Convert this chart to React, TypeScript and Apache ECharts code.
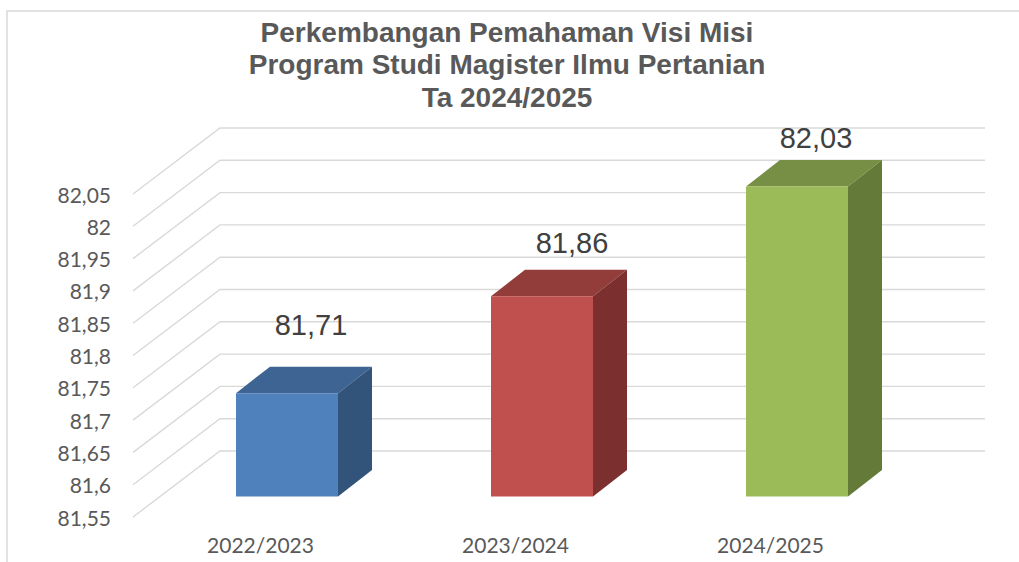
import React, { useEffect, useRef } from "react";
import * as echarts from "echarts";

const categories = ["2022/2023", "2023/2024", "2024/2025"];
const values = [81.71, 81.86, 82.03];
const valueLabels = ["81,71", "81,86", "82,03"];
const yTicks = [81.55, 81.6, 81.65, 81.7, 81.75, 81.8, 81.85, 81.9, 81.95, 82, 82.05];
const frontColors = ["#4f81bd", "#c0504d", "#9bbb59"];
const topColors = ["#3d6492", "#933d3b", "#778f44"];
const sideColors = ["#33547a", "#7b2f2e", "#647a39"];
const titleText = "Perkembangan Pemahaman Visi Misi\nProgram Studi Magister Ilmu Pertanian\nTa 2024/2025";

const wallDx = 87;
const wallDy = 66;
const barShiftX = 26.5;
const barShiftY = 20.5;
const barDepthX = 34;
const barDepthY = 26.5;
const labelOffsets: [number, number][] = [[24, -42], [30, -27], [19, -22]];

export default function App() {
  const ref = useRef<HTMLDivElement>(null);
  useEffect(() => {
    const chart = echarts.init(ref.current!, null, { renderer: "svg" });
    chart.setOption({
      animation: false,
      backgroundColor: "#ffffff",
      title: {
        text: titleText,
        left: 502,
        top: 11,
        textAlign: "center",
        textStyle: {
          fontFamily: "Liberation Sans",
          fontWeight: "bold",
          fontSize: 28,
          lineHeight: 32.5,
          color: "#595959",
        },
      },
      grid: { left: 133, top: 194, width: 765, height: 323 },
      xAxis: {
        type: "category",
        data: categories,
        axisLine: { show: false },
        axisTick: { show: false },
        axisLabel: { fontFamily: "Lato", fontSize: 21, color: "#595959", margin: 17 },
      },
      yAxis: {
        type: "value",
        min: 81.55,
        max: 82.05,
        interval: 0.05,
        axisLine: { show: false },
        axisTick: { show: false },
        splitLine: { show: false },
        axisLabel: {
          fontFamily: "Lato",
          fontSize: 21,
          color: "#595959",
          margin: 22,
          formatter: (v: number) => String(Number(v.toFixed(2))).replace(".", ","),
        },
      },
      graphic: [
        {
          type: "polyline",
          silent: true,
          shape: { points: [[7, 562], [7, 11], [1019, 11]] },
          style: { fill: "none", stroke: "#d9d9d9", lineWidth: 1.5 },
        },
      ],
      series: [
        {
          type: "custom",
          z: 1,
          silent: true,
          data: yTicks.map((t) => [0, t]),
          encode: { x: 0, y: 1 },
          renderItem: (params: any, api: any) => {
            const y = api.coord([0, api.value(1)])[1];
            const x0 = params.coordSys.x;
            const w = params.coordSys.width;
            return {
              type: "polyline",
              shape: { points: [[x0, y], [x0 + wallDx, y - wallDy], [x0 + wallDx + w, y - wallDy]] },
              style: { fill: "none", stroke: "#d9d9d9", lineWidth: 1.4 },
            };
          },
        },
        {
          type: "custom",
          z: 2,
          silent: true,
          data: values.map((v, i) => [i, v]),
          encode: { x: 0, y: 1 },
          renderItem: (params: any, api: any) => {
            const i = api.value(0);
            const top = api.coord([i, api.value(1)]);
            const base = api.coord([i, yTicks[0]]);
            const bw = api.size([1, 0])[0] * 0.4;
            const l = top[0] - bw / 2 + barShiftX;
            const r = l + bw;
            const t = top[1] - barShiftY;
            const b = base[1] - barShiftY;
            return {
              type: "group",
              children: [
                {
                  type: "polygon",
                  shape: { points: [[l, t], [r, t], [r + barDepthX, t - barDepthY], [l + barDepthX, t - barDepthY]] },
                  style: { fill: topColors[i] },
                },
                {
                  type: "polygon",
                  shape: { points: [[r, t], [r + barDepthX, t - barDepthY], [r + barDepthX, b - barDepthY], [r, b]] },
                  style: { fill: sideColors[i] },
                },
                {
                  type: "rect",
                  shape: { x: l, y: t, width: bw, height: b - t },
                  style: { fill: frontColors[i] },
                },
                {
                  type: "text",
                  x: (l + r) / 2 + labelOffsets[i][0],
                  y: t - barDepthY + labelOffsets[i][1],
                  style: {
                    text: valueLabels[i],
                    fontFamily: "Liberation Sans",
                    fontSize: 29,
                    fill: "#404040",
                    align: "center",
                    verticalAlign: "middle",
                  },
                },
              ],
            };
          },
        },
      ],
    });
    return () => chart.dispose();
  }, []);
  return <div ref={ref} style={{ position: "absolute", left: 0, top: 0, width: 1019, height: 562 }} />;
}
